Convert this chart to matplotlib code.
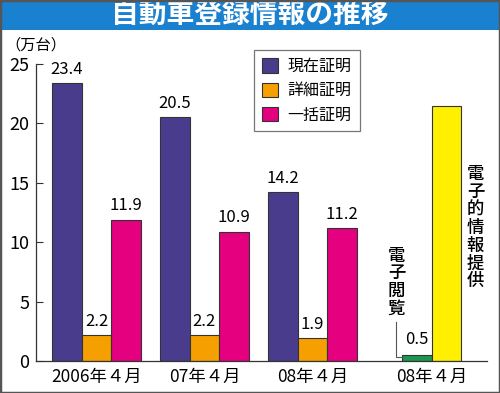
import matplotlib
matplotlib.use("Agg")
import matplotlib.pyplot as plt
from matplotlib.patches import Rectangle, Patch

plt.rcParams['font.family'] = ['Noto Sans CJK JP', 'DejaVu Sans']

title = "自動車登録情報の推移"
unit = "（万台）"
groups = ["2006年４月", "07年４月", "08年４月"]
series_names = ["現在証明", "詳細証明", "一括証明"]
genzai = [23.4, 20.5, 14.2]
shosai = [2.2, 2.2, 1.9]
ikkatsu = [11.9, 10.9, 11.2]
extra_group = "08年４月"
extra_names = ["電子閲覧", "電子的情報提供"]
extra_values = [0.5, 21.5]
yticks = [0, 5, 10, 15, 20, 25]

colors = ["#4a3c8c", "#f5a000", "#e4007f"]
extra_colors = ["#1a9850", "#fff000"]

W, H = 500, 393
fig = plt.figure(figsize=(W / 100, H / 100), dpi=100)

# title bar
fig.patches.append(Rectangle((0, 1 - 30 / H), 1, 30 / H, transform=fig.transFigure,
                             facecolor="#1a80d0", edgecolor="none", zorder=0))
fig.text(0.5, 1 - 15 / H, title, color="white", fontsize=20, fontweight="bold",
         ha="center", va="center")
# border
fig.patches.append(Rectangle((0, 0), 1, 1, transform=fig.transFigure, fill=False,
                             edgecolor="#555555", linewidth=2.5, zorder=10))

ax = fig.add_axes([36 / W, (H - 361) / H, 451 / W, 297 / H])
ax.set_xlim(-2.05, 13.24)
ax.set_ylim(0, 25)

w = 1.0
centers = [0, 3.66, 7.32]
series = [genzai, shosai, ikkatsu]
for i, (vals, c) in enumerate(zip(series, colors)):
    xs = [g + (i - 1) * w for g in centers]
    ax.bar(xs, vals, width=w, color=c, edgecolor="#333333", linewidth=0.8, zorder=2)
    for x, v in zip(xs, vals):
        ax.text(x, v + 0.45, f"{v}", ha="center", va="bottom", fontsize=12)

g4 = 11.37
ex_x = [g4 - w / 2, g4 + w / 2]
for x, v, c in zip(ex_x, extra_values, extra_colors):
    ax.bar(x, v, width=w, color=c, edgecolor="#333333", linewidth=0.8, zorder=2)
ax.text(ex_x[0], extra_values[0] + 0.6, f"{extra_values[0]}", ha="center", va="bottom",
        fontsize=12)

# vertical labels, one character per position
def vertical(x, ytop, step, s):
    for k, ch in enumerate(s):
        ax.text(x, ytop - k * step, ch, ha="center", va="center",
                fontsize=12.5, fontweight="medium")

vertical(g4 + 1.48, 15.74, 1.507, extra_names[1])
vertical(g4 - 1.2, 8.84, 1.47, extra_names[0])
ax.plot([g4 - 1.2, g4 - 1.2, ex_x[0] - w / 2], [3.3, 0.35, 0.35], color="#555555",
        linewidth=0.8, zorder=3)

ax.set_xticks(centers + [g4])
ax.set_xticklabels(groups + [extra_group], fontsize=12.5)
ax.tick_params(axis="x", length=0, pad=5)
ax.set_yticks(yticks)
ax.set_yticklabels([str(t) for t in yticks], fontsize=13)
ax.tick_params(axis="y", direction="in", length=5, pad=5, color="#333333")
for s in ["top", "right"]:
    ax.spines[s].set_visible(False)
for s in ["left", "bottom"]:
    ax.spines[s].set_color("#333333")
    ax.spines[s].set_linewidth(0.9)

fig.text(5 / W, 1 - 45 / H, unit, fontsize=11, ha="left", va="center")

handles = [Patch(facecolor=c, edgecolor="#333333", linewidth=0.8) for c in colors]
leg = ax.legend(handles, series_names, loc="upper left", bbox_to_anchor=((254 - 36) / 451, (361 - 50) / 297),
                fontsize=11.5, frameon=True, fancybox=False, edgecolor="#555555",
                handlelength=1.0, handleheight=1.0, handletextpad=0.6, borderpad=0.5,
                labelspacing=0.45, borderaxespad=0)
leg.get_frame().set_linewidth(0.9)

fig.savefig("out.png", dpi=100, facecolor="white")
